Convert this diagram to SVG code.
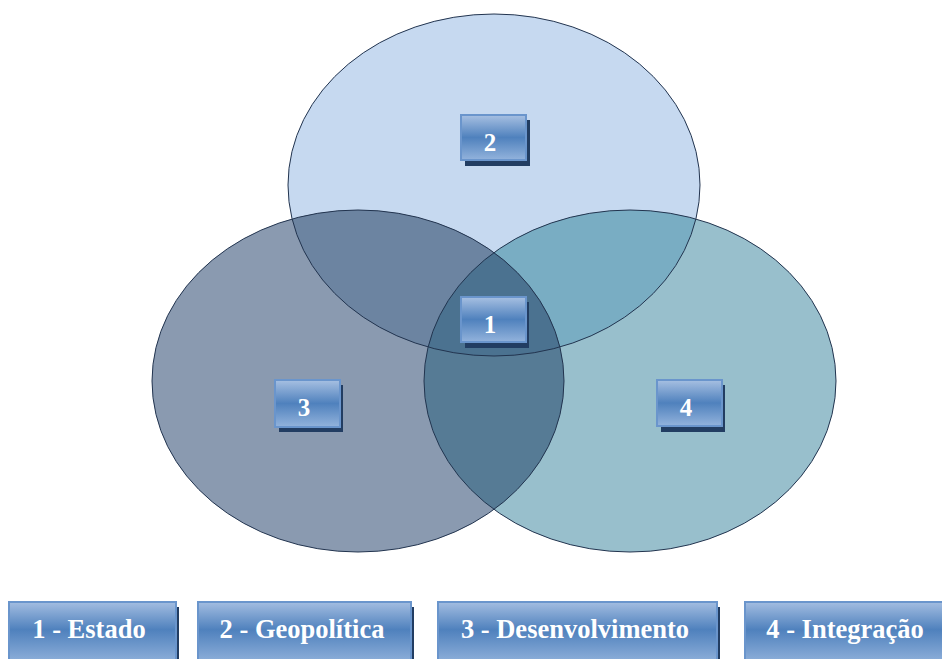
<svg xmlns="http://www.w3.org/2000/svg" width="942" height="659" viewBox="0 0 942 659">
  <defs>
    <style>
      .ring { fill: none; stroke: #22344f; stroke-width: 1; }
      .tag { fill: url(#tagFill); stroke: #6a95cc; stroke-width: 2; }
      .shade { fill: #223d62; }
      .num { font-family: "Liberation Serif", "Times New Roman", serif; font-weight: bold; font-size: 25px; fill: #ffffff; text-anchor: middle; }
      .key { font-family: "Liberation Serif", "Times New Roman", serif; font-weight: bold; font-size: 26.5px; fill: #ffffff; text-anchor: middle; }
    </style>
    <linearGradient id="tagFill" x1="0" y1="0" x2="0" y2="1">
      <stop offset="0" stop-color="#a7c0e2"/>
      <stop offset="0.5" stop-color="#4f81bd"/>
      <stop offset="1" stop-color="#93b3dc"/>
    </linearGradient>
    <linearGradient id="keyFill" x1="0" y1="0" x2="0" y2="1">
      <stop offset="0" stop-color="#a3bde1"/>
      <stop offset="0.42" stop-color="#4f81bd"/>
      <stop offset="1" stop-color="#9ab8df"/>
    </linearGradient>
    <clipPath id="clipTop"><ellipse cx="494" cy="185" rx="206" ry="171"/></clipPath>
    <clipPath id="clipLeft"><ellipse cx="358" cy="381" rx="206" ry="171"/></clipPath>
  </defs>

  <!-- Venn areas -->
  <g id="circles">
    <ellipse id="circle-2" cx="494" cy="185" rx="206" ry="171" fill="#c6d9f0"/>
    <ellipse id="circle-3" cx="358" cy="381" rx="206" ry="171" fill="#8a9ab0"/>
    <ellipse id="circle-4" cx="630" cy="381" rx="206" ry="171" fill="#98bfcc"/>
    <!-- pairwise overlaps -->
    <g clip-path="url(#clipTop)">
      <ellipse cx="358" cy="381" rx="206" ry="171" fill="#6c84a1"/>
      <ellipse cx="630" cy="381" rx="206" ry="171" fill="#79adc3"/>
    </g>
    <g clip-path="url(#clipLeft)">
      <ellipse cx="630" cy="381" rx="206" ry="171" fill="#567b95"/>
    </g>
    <!-- triple overlap -->
    <g clip-path="url(#clipTop)">
      <g clip-path="url(#clipLeft)">
        <ellipse cx="630" cy="381" rx="206" ry="171" fill="#4b7290"/>
      </g>
    </g>
    <ellipse class="ring" cx="494" cy="185" rx="206" ry="171"/>
    <ellipse class="ring" cx="358" cy="381" rx="206" ry="171"/>
    <ellipse class="ring" cx="630" cy="381" rx="206" ry="171"/>
  </g>

  <!-- region tags -->
  <g id="tag-2">
    <rect class="shade" x="465" y="120" width="65" height="46"/>
    <rect class="tag" x="461" y="115" width="65" height="45"/>
    <text class="num" x="490" y="151">2</text>
  </g>
  <g id="tag-1">
    <rect class="shade" x="465" y="302" width="64" height="46"/>
    <rect class="tag" x="461" y="297" width="65" height="45"/>
    <text class="num" x="490" y="333">1</text>
  </g>
  <g id="tag-3">
    <rect class="shade" x="279" y="385" width="64" height="47"/>
    <rect class="tag" x="275" y="380" width="65" height="47"/>
    <text class="num" x="304" y="416">3</text>
  </g>
  <g id="tag-4">
    <rect class="shade" x="661" y="385" width="64" height="47"/>
    <rect class="tag" x="657" y="380" width="65" height="46"/>
    <text class="num" x="686" y="416">4</text>
  </g>

  <!-- legend -->
  <g id="key-1">
    <rect class="shade" x="12" y="607" width="167" height="60"/>
    <rect x="9" y="602" width="167" height="66" fill="url(#keyFill)" stroke="#6a95cc" stroke-width="2"/>
    <text class="key" x="89" y="638">1 - Estado</text>
  </g>
  <g id="key-2">
    <rect class="shade" x="201" y="607" width="213" height="60"/>
    <rect x="198" y="602" width="213" height="66" fill="url(#keyFill)" stroke="#6a95cc" stroke-width="2"/>
    <text class="key" x="302" y="638">2 - Geopolítica</text>
  </g>
  <g id="key-3">
    <rect class="shade" x="441" y="607" width="279" height="60"/>
    <rect x="438" y="602" width="279" height="66" fill="url(#keyFill)" stroke="#6a95cc" stroke-width="2"/>
    <text class="key" x="575" y="638">3 - Desenvolvimento</text>
  </g>
  <g id="key-4">
    <rect class="shade" x="748" y="607" width="200" height="60"/>
    <rect x="745" y="602" width="200" height="66" fill="url(#keyFill)" stroke="#6a95cc" stroke-width="2"/>
    <text class="key" x="845" y="638">4 - Integração</text>
  </g>
</svg>
